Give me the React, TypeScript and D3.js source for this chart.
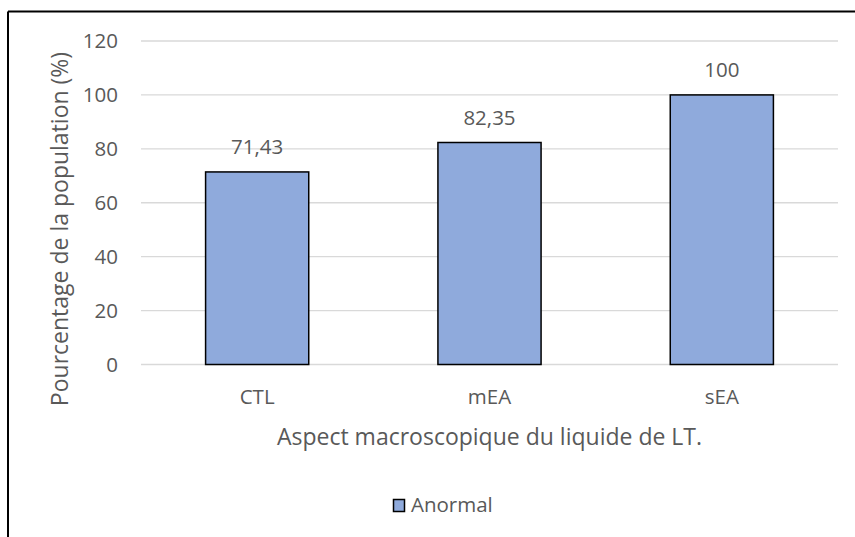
import React from "react";
import * as d3 from "d3";

const categories = ["CTL", "mEA", "sEA"];
const values = [71.43, 82.35, 100];
const valueLabels = ["71,43", "82,35", "100"];
const yTicks = [0, 20, 40, 60, 80, 100, 120];
const seriesName = "Anormal";
const xTitle = "Aspect macroscopique du liquide de LT.";
const yTitle = "Pourcentage de la population (%)";

const W = 855;
const H = 537;
const FONT = "'Open Sans', sans-serif";
const TXT = "#595959";
const SMALL = 20.5;
const BIG = 23;

export default function App() {
  const left = 141, right = 838, top = 41, bottom = 364.5;
  const x = d3.scaleBand<string>().domain(categories).range([left, right]).padding(0);
  const y = d3.scaleLinear().domain([0, 120]).range([bottom, top]);
  const barW = x.bandwidth() * 0.444;

  return (
    <div style={{ position: "absolute", left: 0, top: 0 }}>
      <svg width={W} height={H} style={{ display: "block", background: "#fff" }}>
        <line x1={8} y1={11.5} x2={W} y2={11.5} stroke="#000" strokeWidth={2} />
        <line x1={8} y1={11.5} x2={8} y2={H} stroke="#000" strokeWidth={2} />

        {yTicks.map((t) => (
          <line key={t} x1={left} x2={right} y1={y(t)} y2={y(t)} stroke="#d9d9d9" strokeWidth={1.3} />
        ))}
        {yTicks.map((t) => (
          <text key={"l" + t} x={118} y={y(t)} dy="0.36em" textAnchor="end" fontFamily={FONT} fontSize={SMALL} fill={TXT}>
            {t}
          </text>
        ))}

        {categories.map((c, i) => {
          const cx = (x(c) as number) + x.bandwidth() / 2;
          return (
            <g key={c}>
              <rect x={cx - barW / 2} y={y(values[i])} width={barW} height={y(0) - y(values[i])} fill="#8faadc" stroke="#000" strokeWidth={1.5} />
              <text x={cx} y={y(values[i]) - 25} dy="0.36em" textAnchor="middle" fontFamily={FONT} fontSize={SMALL} fill={TXT}>
                {valueLabels[i]}
              </text>
              <text x={cx} y={397} dy="0.36em" textAnchor="middle" fontFamily={FONT} fontSize={SMALL} fill={TXT}>
                {c}
              </text>
            </g>
          );
        })}

        <text x={(left + right) / 2} y={437} dy="0.36em" textAnchor="middle" fontFamily={FONT} fontSize={BIG} fill={TXT}>
          {xTitle}
        </text>
        <text transform={`translate(60,229) rotate(-90)`} dy="0.36em" textAnchor="middle" fontFamily={FONT} fontSize={BIG} fill={TXT}>
          {yTitle}
        </text>

        <rect x={393.5} y={499.5} width={11} height={12} fill="#8faadc" stroke="#000" strokeWidth={1.5} />
        <text x={411} y={505} dy="0.36em" fontFamily={FONT} fontSize={SMALL} fill={TXT}>
          {seriesName}
        </text>
      </svg>
    </div>
  );
}
